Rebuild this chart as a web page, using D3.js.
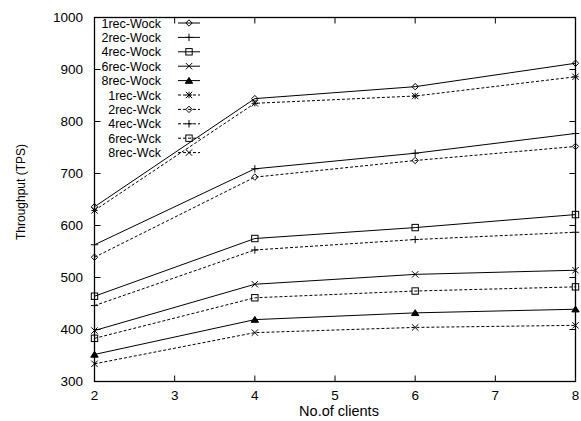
<!DOCTYPE html>
<html><head><meta charset="utf-8">
<script src="https://cdn.jsdelivr.net/npm/d3@7"></script>
<style>body{margin:0;background:#fff}text{font-family:"Liberation Sans",Arial,sans-serif;fill:#000}</style>
</head><body><svg id="c" width="581" height="421"></svg>
<script>
const clients = [2, 4, 6, 8];
const xTicks = [2, 3, 4, 5, 6, 7, 8];
const yTicks = [300, 400, 500, 600, 700, 800, 900, 1000];
const seriesNames = ["1rec-Wock","2rec-Wock","4rec-Wock","6rec-Wock","8rec-Wock","1rec-Wck","2rec-Wck","4rec-Wck","6rec-Wck","8rec-Wck"];
const rec1Wock = [636, 844, 867, 912];
const rec2Wock = [563, 709, 739, 777];
const rec4Wock = [464, 575, 596, 621];
const rec6Wock = [398, 487, 506, 514];
const rec8Wock = [352, 419, 432, 439];
const rec1Wck = [629, 835, 849, 886];
const rec2Wck = [539, 693, 725, 752];
const rec4Wck = [446, 553, 573, 587];
const rec6Wck = [383, 461, 474, 482];
const rec8Wck = [334, 394, 404, 408];
const seriesValues = [rec1Wock, rec2Wock, rec4Wock, rec6Wock, rec8Wock, rec1Wck, rec2Wck, rec4Wck, rec6Wck, rec8Wck];
const markers = ["diamond","plus","square","cross","triangle","star","diamond","plus","square","cross"];
const dashed = [false,false,false,false,false,true,true,true,true,true];

const svg = d3.select("#c");
const L = 94.5, R = 575.5, T = 17.5, B = 381.5;
const x = d3.scaleLinear().domain([2, 8]).range([L, R]);
const y = d3.scaleLinear().domain([300, 1000]).range([B, T]);

// ticks (inward, mirrored)
const tl = 6;
const g = svg.append("g").attr("stroke", "#000").attr("stroke-width", 1);
yTicks.forEach(v => {
  g.append("line").attr("x1", L).attr("x2", L + tl).attr("y1", y(v)).attr("y2", y(v));
  g.append("line").attr("x1", R).attr("x2", R - tl).attr("y1", y(v)).attr("y2", y(v));
});
xTicks.forEach(v => {
  g.append("line").attr("x1", x(v)).attr("x2", x(v)).attr("y1", B).attr("y2", B - tl);
  g.append("line").attr("x1", x(v)).attr("x2", x(v)).attr("y1", T).attr("y2", T + tl);
});
svg.append("rect").attr("x", L).attr("y", T).attr("width", R - L).attr("height", B - T)
  .attr("fill", "none").attr("stroke", "#000").attr("stroke-width", 1.3);

// tick labels
yTicks.forEach(v => {
  svg.append("text").attr("x", 83).attr("y", y(v)).attr("dy", "0.35em")
    .attr("text-anchor", "end").attr("font-size", 13.5).text(v);
});
xTicks.forEach(v => {
  svg.append("text").attr("x", x(v)).attr("y", 400).attr("text-anchor", "middle")
    .attr("font-size", 13.5).text(v);
});
svg.append("text").attr("x", 339).attr("y", 416).attr("text-anchor", "middle")
  .attr("font-size", 14.5).text("No.of clients");
svg.append("text").attr("transform", "translate(25,192) rotate(-90)").attr("text-anchor", "middle")
  .attr("font-size", 12).text("Throughput (TPS)");

function marker(sel, type, cx, cy) {
  const s = 3.2;
  const p = sel.append("g").attr("stroke", "#000").attr("stroke-width", 1).attr("fill", "none");
  if (type === "diamond") {
    p.append("path").attr("d", `M${cx-s},${cy}L${cx},${cy-s}L${cx+s},${cy}L${cx},${cy+s}Z`);
  } else if (type === "plus") {
    p.append("path").attr("d", `M${cx-s-0.5},${cy}H${cx+s+0.5}M${cx},${cy-s-0.5}V${cy+s+0.5}`);
  } else if (type === "square") {
    p.append("rect").attr("x", cx - s).attr("y", cy - s).attr("width", 2 * s).attr("height", 2 * s);
  } else if (type === "cross") {
    p.append("path").attr("d", `M${cx-s},${cy-s}L${cx+s},${cy+s}M${cx-s},${cy+s}L${cx+s},${cy-s}`);
  } else if (type === "triangle") {
    p.append("path").attr("d", `M${cx-s-0.5},${cy+s-0.5}L${cx},${cy-s}L${cx+s+0.5},${cy+s-0.5}Z`).attr("fill", "#000");
  } else if (type === "star") {
    p.append("path").attr("d", `M${cx-s},${cy-s}L${cx+s},${cy+s}M${cx-s},${cy+s}L${cx+s},${cy-s}M${cx-s},${cy}H${cx+s}M${cx},${cy-s}V${cy+s}`);
  }
}

const line = d3.line().x((d, i) => x(clients[i])).y(d => y(d));
seriesValues.forEach((vals, k) => {
  svg.append("path").datum(vals).attr("d", line).attr("fill", "none").attr("stroke", "#000")
    .attr("stroke-width", 1).attr("stroke-dasharray", dashed[k] ? "3,2" : null);
  vals.forEach((v, i) => marker(svg, markers[k], x(clients[i]), y(v)));
});

// legend
seriesNames.forEach((name, k) => {
  const ly = 23 + k * 14.4;
  svg.append("text").attr("x", 161).attr("y", ly).attr("dy", "0.36em").attr("text-anchor", "end")
    .attr("font-size", 12.5).text(name);
  svg.append("line").attr("x1", 178).attr("x2", 200).attr("y1", ly).attr("y2", ly)
    .attr("stroke", "#000").attr("stroke-width", 1).attr("stroke-dasharray", dashed[k] ? "3,2" : null);
  marker(svg, markers[k], 189, ly);
});
</script></body></html>
